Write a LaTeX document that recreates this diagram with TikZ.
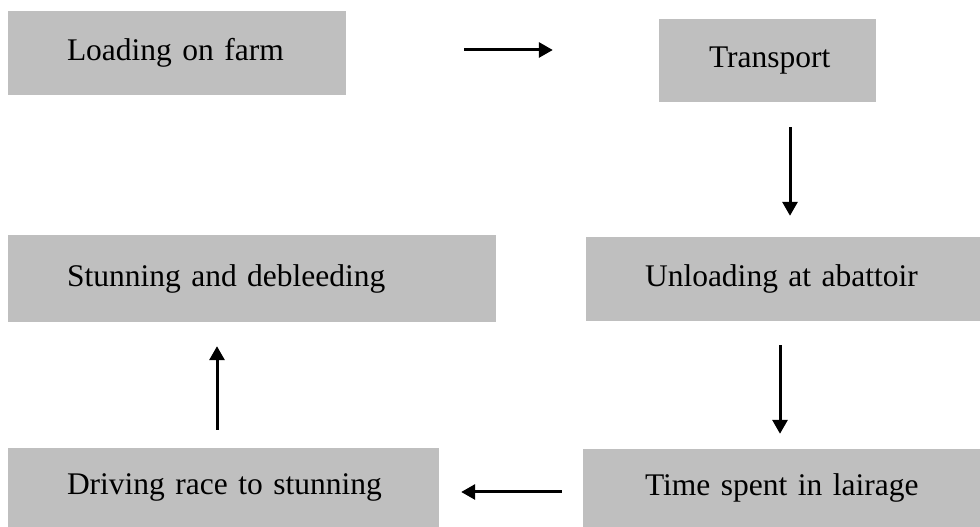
\documentclass[tikz,border=0pt]{standalone}
\usepackage{fontspec}
\setmainfont{Liberation Serif}
\usepackage{tikz}
\usetikzlibrary{arrows.meta,positioning,calc}
\definecolor{boxgray}{RGB}{191,191,191}
\newcommand{\oneline}[1]{\mbox{#1}\hfil}
\tikzset{
  stage/.style={fill=boxgray, inner xsep=59pt, inner ysep=0pt, align=left,
    font=\fontsize{31.5}{36}\selectfont},
  flow/.style={line width=3pt, -{Triangle[length=14pt,width=15pt]}}
}

\begin{document}
\begin{tikzpicture}[x=1pt,y=1pt]
            \useasboundingbox (0,0) rectangle (980,527);
            \node[stage, text width=220pt, minimum height=84pt] (load) at (177,474) {\oneline{Loading on farm}};
            \node[stage, inner xsep=50pt, text width=117pt, minimum height=83pt] (trans) at (767.5,466.5) {\oneline{Transport}};
            \node[stage, text width=276pt, minimum height=84pt] (unload) at (783,248) {\oneline{Unloading at abattoir}};
            \node[stage, text width=370pt, minimum height=87pt] (stun) at (252,248.5) {\oneline{Stunning and debleeding}};
            \node[stage, inner xsep=62pt, text width=273pt, minimum height=78pt] (time) at (781.5,39) {\oneline{Time spent in lairage}};
            \node[stage, text width=313pt, minimum height=79pt] (drive) at (223.5,39.5) {\oneline{Driving race to stunning}};
            \draw[flow] ([shift={(118,3)}]load.east) -- ([shift={(-106,10.5)}]trans.west);
            \draw[flow] ([shift={(22.5,-25)}]trans.south) -- ([shift={(7,21)}]unload.north);
            \draw[flow] ([shift={(-3,-24)}]unload.south) -- ([shift={(-1.5,15)}]time.north);
            \draw[flow] ([shift={(-21,-4)}]time.west) -- ([shift={(22,-4.5)}]drive.east);
            \draw[flow] ([shift={(-6.5,18)}]drive.north) -- ([shift={(-35,-24)}]stun.south);
        \end{tikzpicture}
\end{document}
